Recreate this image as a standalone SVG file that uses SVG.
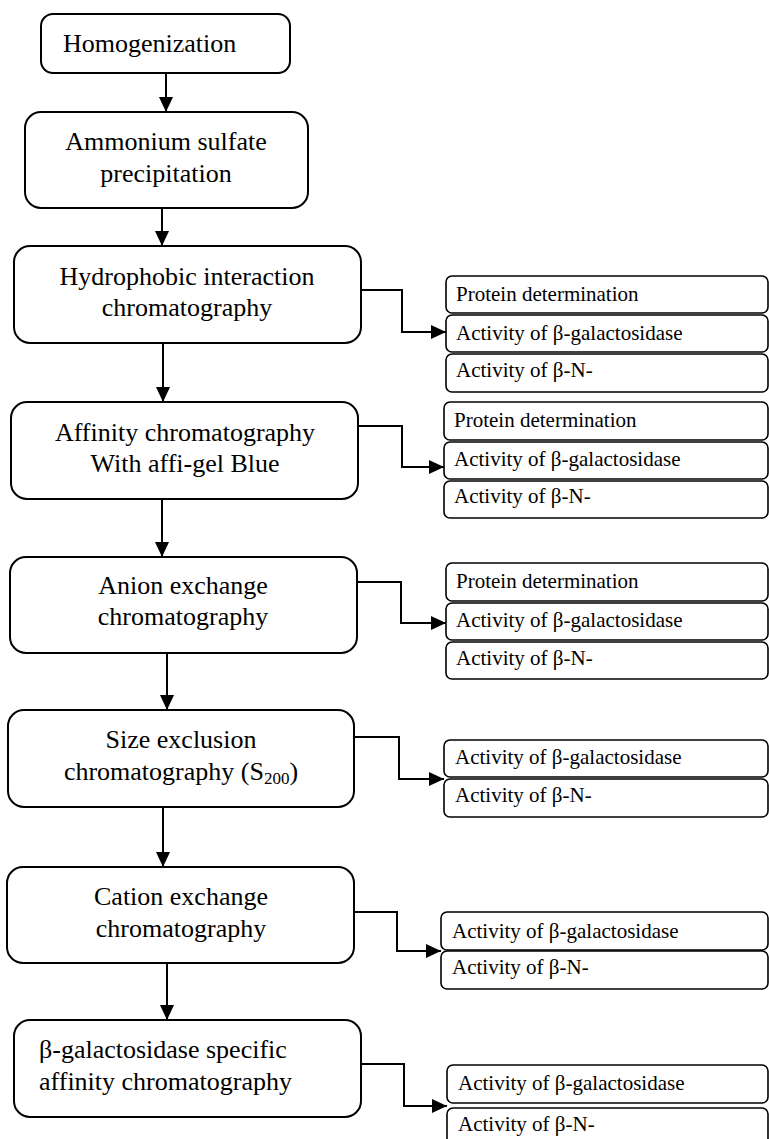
<svg xmlns="http://www.w3.org/2000/svg" width="769" height="1139" viewBox="0 0 769 1139">
<style>
  .main { fill: #fff; stroke: #000; stroke-width: 2; }
  .side { fill: #fff; stroke: #000; stroke-width: 1.6; }
  text { font-family: 'Liberation Serif', 'DejaVu Serif', serif; fill: #000; }
  .t { font-size: 26px; }
  .c { text-anchor: middle; }
  .s { font-size: 21px; }
  .conn { fill: none; stroke: #000; stroke-width: 2; }
</style>
<defs>
  <marker id="arr" viewBox="0 0 15 14" refX="15" refY="7" markerWidth="15" markerHeight="14" markerUnits="userSpaceOnUse" orient="auto">
    <path d="M0,0 L15,7 L0,14 z" fill="#000"/>
  </marker>
</defs>
<rect width="769" height="1139" fill="#fff"/>

<g id="connectors">
  <path class="conn" d="M166,73 V112" marker-end="url(#arr)"/>
  <path class="conn" d="M162,208 V246" marker-end="url(#arr)"/>
  <path class="conn" d="M163,343 V402" marker-end="url(#arr)"/>
  <path class="conn" d="M162,499 V557" marker-end="url(#arr)"/>
  <path class="conn" d="M167,653 V710" marker-end="url(#arr)"/>
  <path class="conn" d="M163,807 V867" marker-end="url(#arr)"/>
  <path class="conn" d="M167,963 V1020" marker-end="url(#arr)"/>
  <path class="conn" d="M361,290 H402 V332 H446" marker-end="url(#arr)"/>
  <path class="conn" d="M358,426 H402 V467 H444" marker-end="url(#arr)"/>
  <path class="conn" d="M357,582 H401 V623 H446" marker-end="url(#arr)"/>
  <path class="conn" d="M354,737 H399 V779 H444" marker-end="url(#arr)"/>
  <path class="conn" d="M354,912 H397 V951 H441" marker-end="url(#arr)"/>
  <path class="conn" d="M361,1064 H404 V1106 H447" marker-end="url(#arr)"/>
</g>

<g id="homogenization">
  <rect class="main" x="41" y="14" width="249" height="59" rx="12"/>
  <text class="t" x="63" y="52" font-family="Liberation Serif, serif">Homogenization</text>
</g>
<g id="ammonium">
  <rect class="main" x="25" y="112" width="283" height="96" rx="16"/>
  <text class="t c" x="166" y="150">Ammonium sulfate</text>
  <text class="t c" x="166" y="182">precipitation</text>
</g>
<g id="hydrophobic">
  <rect class="main" x="14" y="246" width="347" height="97" rx="16"/>
  <text class="t c" x="187" y="285">Hydrophobic interaction</text>
  <text class="t c" x="187" y="316">chromatography</text>
</g>
<g id="affinity">
  <rect class="main" x="11" y="402" width="347" height="97" rx="16"/>
  <text class="t c" x="185" y="441">Affinity chromatography</text>
  <text class="t c" x="185" y="472">With affi-gel Blue</text>
</g>
<g id="anion">
  <rect class="main" x="10" y="557" width="347" height="96" rx="16"/>
  <text class="t c" x="183" y="594">Anion exchange</text>
  <text class="t c" x="183" y="625">chromatography</text>
</g>
<g id="size">
  <rect class="main" x="8" y="710" width="346" height="97" rx="16"/>
  <text class="t c" x="181" y="748">Size exclusion</text>
  <text class="t c" x="181" y="780">chromatography (S<tspan font-size="17" dy="4">200</tspan><tspan dy="-4">)</tspan></text>
</g>
<g id="cation">
  <rect class="main" x="7" y="867" width="347" height="96" rx="16"/>
  <text class="t c" x="181" y="905">Cation exchange</text>
  <text class="t c" x="181" y="937">chromatography</text>
</g>
<g id="specific">
  <rect class="main" x="14" y="1020" width="347" height="97" rx="16"/>
  <text class="t" x="39" y="1058">β-galactosidase specific</text>
  <text class="t" x="39" y="1090">affinity chromatography</text>
</g>

<g id="results1">
  <rect class="side" x="446" y="276" width="322" height="37" rx="6"/>
  <text class="s" x="456" y="301">Protein determination</text>
  <rect class="side" x="446" y="315" width="322" height="37" rx="6"/>
  <text class="s" x="456" y="340">Activity of β-galactosidase</text>
  <rect class="side" x="446" y="354" width="322" height="38" rx="6"/>
  <text class="s" x="456" y="377">Activity of β-N-</text>
</g>
<g id="results2">
  <rect class="side" x="444" y="402" width="324" height="38" rx="6"/>
  <text class="s" x="454" y="427">Protein determination</text>
  <rect class="side" x="444" y="442" width="324" height="37" rx="6"/>
  <text class="s" x="454" y="466">Activity of β-galactosidase</text>
  <rect class="side" x="444" y="481" width="324" height="37" rx="6"/>
  <text class="s" x="454" y="503">Activity of β-N-</text>
</g>
<g id="results3">
  <rect class="side" x="446" y="563" width="322" height="38" rx="6"/>
  <text class="s" x="456" y="588">Protein determination</text>
  <rect class="side" x="446" y="603" width="322" height="37" rx="6"/>
  <text class="s" x="456" y="627">Activity of β-galactosidase</text>
  <rect class="side" x="446" y="642" width="322" height="37" rx="6"/>
  <text class="s" x="456" y="665">Activity of β-N-</text>
</g>
<g id="results4">
  <rect class="side" x="444" y="740" width="324" height="37" rx="6"/>
  <text class="s" x="455" y="764">Activity of β-galactosidase</text>
  <rect class="side" x="444" y="779" width="324" height="38" rx="6"/>
  <text class="s" x="455" y="802">Activity of β-N-</text>
</g>
<g id="results5">
  <rect class="side" x="441" y="912" width="327" height="38" rx="6"/>
  <text class="s" x="452" y="938">Activity of β-galactosidase</text>
  <rect class="side" x="441" y="951" width="327" height="38" rx="6"/>
  <text class="s" x="452" y="974">Activity of β-N-</text>
</g>
<g id="results6">
  <rect class="side" x="447" y="1065" width="321" height="38" rx="6"/>
  <text class="s" x="458" y="1090">Activity of β-galactosidase</text>
  <rect class="side" x="447" y="1108" width="321" height="40" rx="6"/>
  <text class="s" x="458" y="1131">Activity of β-N-</text>
</g>
</svg>
